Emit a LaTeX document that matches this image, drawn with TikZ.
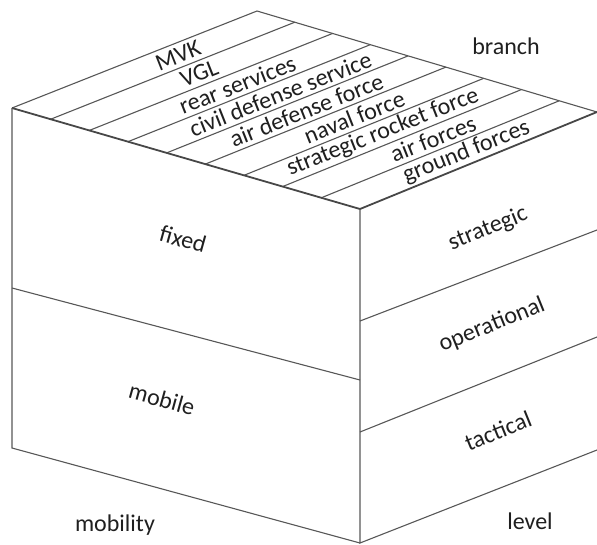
\documentclass[tikz,border=0pt]{standalone}
\usepackage{fontspec}
\setmainfont{Carlito}
\usetikzlibrary{calc}
\begin{document}
\begin{tikzpicture}[x=1pt,y=-1pt,
  edge/.style={draw=black!66, line width=1.1pt},
  heavy/.style={draw=black!72, line width=1.8pt},
  lbl/.style={font=\fontsize{24}{28}\selectfont, text=black!88, inner sep=0pt}]
\useasboundingbox (0,0) rectangle (597,544);
% corners
\coordinate (L) at (12,108);
\coordinate (B) at (257,11);
\coordinate (R) at (597,112);
\coordinate (F) at (360,209);
\coordinate (LM) at (12,288);
\coordinate (FM) at (360,380);
\coordinate (LB) at (12,448);
\coordinate (FB) at (360,543);
\coordinate (F1) at (360,321);
\coordinate (F2) at (360,432);
\coordinate (R1) at (597,230);
\coordinate (R2) at (597,337);
\coordinate (RB) at (597,450);
% top face
\draw[edge] (L) -- (B) -- (R);
\foreach \i in {1,...,8}
  \draw[edge] ($(L)!\i/9!(F)$) -- ($(B)!\i/9!(R)$);
\draw[heavy] (L) -- (F) -- (R);
% left face
\draw[edge] (L) -- (LB) -- (FB);
\draw[edge] (LM) -- (FM);
% right face
\draw[edge] (F) -- (FB) -- (RB);
\draw[edge] (F1) -- (R1);
\draw[edge] (F2) -- (R2);
% top labels
\node[lbl, rotate=21.6] (mvk) at ($($(L)!0.0556!(F)$)!0.6!($(B)!0.0556!(R)$)$) {MVK};
\node[lbl, rotate=21.6] (vgl) at ($($(L)!0.1667!(F)$)!0.53!($(B)!0.1667!(R)$)$) {VGL};
\node[lbl, rotate=21.6] (rear) at ($($(L)!0.2778!(F)$)!0.53!($(B)!0.2778!(R)$)$) {rear services};
\node[lbl, rotate=21.6] (civil) at ($($(L)!0.3889!(F)$)!0.55!($(B)!0.3889!(R)$)$) {civil defense service};
\node[lbl, rotate=21.6] (airdef) at ($($(L)!0.5!(F)$)!0.5!($(B)!0.5!(R)$)$) {air defense force};
\node[lbl, rotate=21.6] (naval) at ($($(L)!0.6111!(F)$)!0.54!($(B)!0.6111!(R)$)$) {naval force};
\node[lbl, rotate=21.6] (rocket) at ($($(L)!0.7222!(F)$)!0.5!($(B)!0.7222!(R)$)$) {strategic rocket force};
\node[lbl, rotate=21.6] (air) at ($($(L)!0.8333!(F)$)!0.55!($(B)!0.8333!(R)$)$) {air forces};
\node[lbl, rotate=21.6] (ground) at ($($(L)!0.9444!(F)$)!0.53!($(B)!0.9444!(R)$)$) {ground forces};
% face labels
\node[lbl, rotate=-15.5] (fixed) at (183,239) {fixed};
\node[lbl, rotate=-15.5] (mobile) at (162,399) {mobile};
\node[lbl, rotate=22] (strategic) at (488,229) {strategic};
\node[lbl, rotate=22] (operational) at (492,325) {operational};
\node[lbl, rotate=22] (tactical) at (498,431) {tactical};
% axis labels
\node[lbl] (branch) at (506,46) {branch};
\node[lbl] (mobility) at (115,525) {mobility};
\node[lbl] (level) at (530,521) {level};
\end{tikzpicture}
\end{document}
